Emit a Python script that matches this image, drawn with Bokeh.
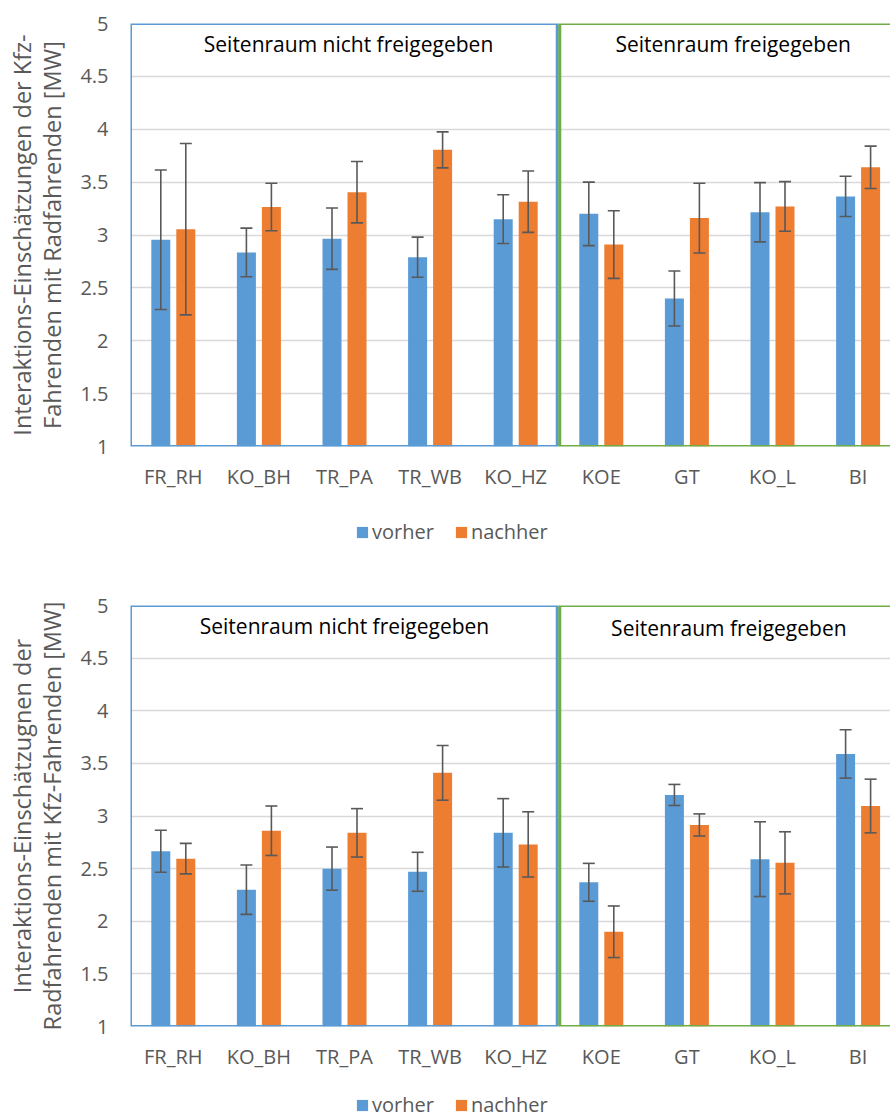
from bokeh.plotting import figure
from bokeh.models import (ColumnDataSource, FixedTicker, Whisker, TeeHead, Legend,
                          LegendItem)
from bokeh.layouts import column
from bokeh.core.properties import value
from bokeh.embed import file_html
from bokeh.resources import INLINE

categories = ["FR_RH", "KO_BH", "TR_PA", "TR_WB", "KO_HZ", "KOE", "GT", "KO_L", "BI"]
y_ticks = [1, 1.5, 2, 2.5, 3, 3.5, 4, 4.5, 5]
y_tick_labels = ["1", "1.5", "2", "2.5", "3", "3.5", "4", "4.5", "5"]
series_names = ["vorher", "nachher"]
group_labels = ["Seitenraum nicht freigegeben", "Seitenraum freigegeben"]

# Chart 1: Kfz-Fahrende mit Radfahrenden
top_vorher = [2.955, 2.835, 2.965, 2.79, 3.15, 3.20, 2.40, 3.215, 3.365]
top_vorher_err = [0.66, 0.23, 0.29, 0.19, 0.23, 0.30, 0.26, 0.28, 0.19]
top_nachher = [3.055, 3.265, 3.405, 3.805, 3.315, 2.91, 3.16, 3.27, 3.64]
top_nachher_err = [0.81, 0.225, 0.29, 0.17, 0.29, 0.32, 0.33, 0.235, 0.20]
top_title = ["Interaktions-Einschätzungen der Kfz-", "Fahrenden mit Radfahrenden [MW]"]

# Chart 2: Radfahrende mit Kfz-Fahrenden
bot_vorher = [2.665, 2.30, 2.50, 2.47, 2.84, 2.37, 3.20, 2.59, 3.59]
bot_vorher_err = [0.20, 0.235, 0.205, 0.185, 0.325, 0.18, 0.10, 0.355, 0.23]
bot_nachher = [2.595, 2.86, 2.84, 3.41, 2.73, 1.90, 2.915, 2.555, 3.095]
bot_nachher_err = [0.145, 0.235, 0.23, 0.26, 0.31, 0.245, 0.105, 0.295, 0.255]
bot_title = ["Interaktions-Einschätzugnen der", "Radfahrenden mit Kfz-Fahrenden [MW]"]

BLUE = "#5B9BD5"
ORANGE = "#ED7D31"
GREEN = "#70AD47"
GRAY = "#595959"
FONT = "Open Sans"

CAT_PX = 85.6
FIG_W = 890
LEFT = 130
FRAME_W = FIG_W - LEFT
N_GROUP1 = 5


def make_chart(vorher, v_err, nachher, n_err, title, height, top_border, bottom_border,
               label_pos):
    xr_end = FRAME_W / CAT_PX
    p = figure(width=FIG_W, height=height, x_range=(0, xr_end), y_range=(1, 5),
               output_backend="svg", toolbar_location=None,
               min_border_left=LEFT, min_border_right=0,
               min_border_top=top_border, min_border_bottom=bottom_border)
    p.outline_line_color = None
    p.xgrid.grid_line_color = None
    p.ygrid.grid_line_color = "#D9D9D9"
    p.ygrid.grid_line_width = 1.3
    p.ygrid.ticker = FixedTicker(ticks=y_ticks)

    xs = [i + 0.5 for i in range(len(categories))]
    off = 0.146
    bw = 0.222
    src_v = ColumnDataSource(dict(x=[x - off for x in xs], top=vorher,
                                  upper=[a + e for a, e in zip(vorher, v_err)],
                                  lower=[a - e for a, e in zip(vorher, v_err)]))
    src_n = ColumnDataSource(dict(x=[x + off for x in xs], top=nachher,
                                  upper=[a + e for a, e in zip(nachher, n_err)],
                                  lower=[a - e for a, e in zip(nachher, n_err)]))
    p.vbar(x="x", top="top", bottom=1, width=bw, source=src_v,
           fill_color=BLUE, line_color=None)
    p.vbar(x="x", top="top", bottom=1, width=bw, source=src_n,
           fill_color=ORANGE, line_color=None)

    for src in (src_v, src_n):
        w = Whisker(source=src, base="x", upper="upper", lower="lower",
                    line_color=GRAY, line_width=1.6, level="overlay",
                    upper_head=TeeHead(size=12, line_color=GRAY, line_width=1.6),
                    lower_head=TeeHead(size=12, line_color=GRAY, line_width=1.6))
        p.add_layout(w)

    # group boxes
    p.quad(left=[0], right=[N_GROUP1 - 0.015], bottom=[1], top=[5],
           fill_color=None, line_color=BLUE, line_width=3)
    p.quad(left=[N_GROUP1 + 0.015], right=[len(categories) + 0.5], bottom=[1], top=[5],
           fill_color=None, line_color=GREEN, line_width=3)

    # group labels
    p.text(x=[label_pos[0][0], label_pos[1][0]], y=[label_pos[0][1], label_pos[1][1]],
           text=group_labels, text_align="center", text_baseline="middle",
           text_font=value(FONT), text_font_size="21px", text_color="#000000")

    # axes
    p.xaxis.ticker = FixedTicker(ticks=xs)
    p.xaxis.major_label_overrides = {x: c for x, c in zip(xs, categories)}
    p.yaxis.ticker = FixedTicker(ticks=y_ticks)
    p.yaxis.major_label_overrides = {t: l for t, l in zip(y_ticks, y_tick_labels)}
    for ax in (p.xaxis, p.yaxis):
        ax.axis_line_color = None
        ax.major_tick_line_color = None
        ax.minor_tick_line_color = None
        ax.major_tick_out = 0
        ax.major_tick_in = 0
        ax.major_label_text_font = FONT
        ax.major_label_text_font_size = "20px"
        ax.major_label_text_color = GRAY
    p.yaxis.major_label_standoff = 22
    p.xaxis.major_label_standoff = 16

    # two-line axis title
    p.yaxis.axis_label = "\n".join(title)
    p.yaxis.axis_label_text_font = FONT
    p.yaxis.axis_label_text_font_size = "23.5px"
    p.yaxis.axis_label_text_font_style = "normal"
    p.yaxis.axis_label_text_color = GRAY
    p.yaxis.axis_label_text_line_height = 0.95
    p.yaxis.axis_label_standoff = 9
    return p


def make_legend(height, loc_y):
    # frame of this figure is aligned with the chart frames above (starts at x=130)
    lf = figure(width=FIG_W, height=height, x_range=(0, 1), y_range=(0, 1),
                output_backend="svg", toolbar_location=None,
                x_axis_location=None, y_axis_location=None,
                min_border_left=LEFT, min_border_right=0,
                min_border_top=0, min_border_bottom=0)
    lf.outline_line_color = None
    lf.grid.visible = False
    # placeholder glyphs outside the visible range, only used as legend swatches
    rv = lf.vbar(x=[-5], top=[-5], width=0.1, fill_color=BLUE, line_color=None)
    rn = lf.vbar(x=[-5], top=[-5], width=0.1, fill_color=ORANGE, line_color=None)
    legend = Legend(items=[LegendItem(label=series_names[0], renderers=[rv]),
                           LegendItem(label=series_names[1], renderers=[rn])],
                    orientation="horizontal", location=(225, loc_y),
                    glyph_width=14, glyph_height=14, label_standoff=3, spacing=20,
                    padding=0, margin=0, border_line_color=None,
                    background_fill_alpha=0,
                    label_text_font=FONT, label_text_font_size="20px",
                    label_text_color=GRAY)
    lf.add_layout(legend)
    return lf


p1 = make_chart(top_vorher, top_vorher_err, top_nachher, top_nachher_err, top_title,
                height=500, top_border=23, bottom_border=54,
                label_pos=[(2.547, 4.806), (7.04, 4.806)])
l1 = make_legend(75, 30)
p2 = make_chart(bot_vorher, bot_vorher_err, bot_nachher, bot_nachher_err, bot_title,
                height=497, top_border=30, bottom_border=45,
                label_pos=[(2.50, 4.807), (6.99, 4.79)])
l2 = make_legend(47, 1)

layout = column(p1, l1, p2, l2, spacing=0)
open("out.html", "w").write(file_html(layout, INLINE))
